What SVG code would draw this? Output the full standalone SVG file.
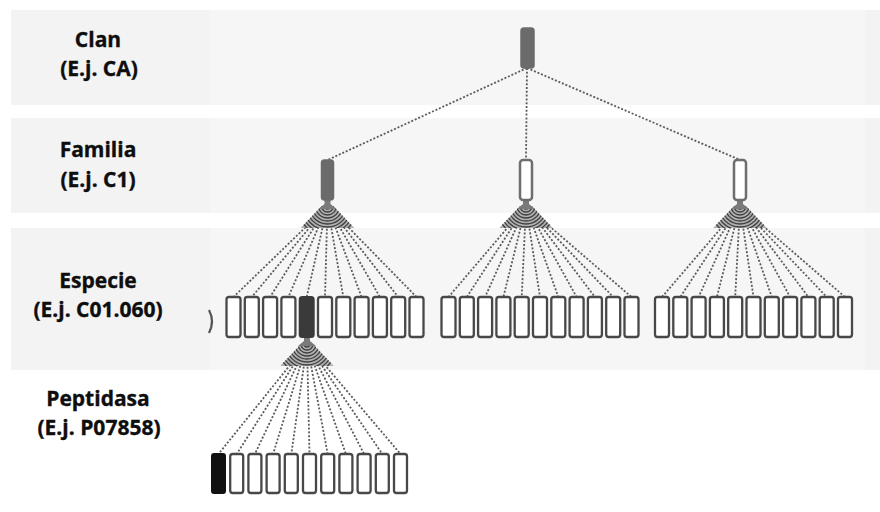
<svg xmlns="http://www.w3.org/2000/svg" xmlns:xlink="http://www.w3.org/1999/xlink" width="880" height="512" viewBox="0 0 880 512">
  <style>
    .band { fill: #f6f6f6; }
    .band-label { fill: #f3f3f3; }
    .band-edge { fill: #f3f3f3; }
    .label { font-family: "Open Sans", "Liberation Sans", sans-serif; font-weight: 700; font-size: 21px; fill: #0e0e0e; text-anchor: middle; stroke: #0e0e0e; stroke-width: 0.35; }
    .link { stroke: #5c5c5c; stroke-width: 1.8; stroke-dasharray: 2 1.8; fill: none; }
    .box { fill: #ffffff; stroke: #484848; stroke-width: 2.3; }
    .box-sel { fill: #3a3a3a; stroke: #3a3a3a; stroke-width: 2; }
    .box-leaf { fill: #111111; stroke: #111111; stroke-width: 2; }
    .node-full { fill: #6b6b6b; stroke: #6b6b6b; stroke-width: 1.5; }
    .node-open { fill: #ffffff; stroke: #6e6e6e; stroke-width: 2.5; }
    .flare { fill: #7a7a7a; }
  </style>
  <defs>
    <clipPath id="fanClip" clipPathUnits="userSpaceOnUse">
      <polygon points="-6,0 6,0 27,22 -27,22"/>
    </clipPath>
    <!-- dense fan pattern where the dotted links converge -->
    <g id="moire" clip-path="url(#fanClip)">
      <polygon points="-6,0 6,0 27,22 -27,22" fill="#b0b0b0"/>
      <g fill="none" stroke="#404040" stroke-width="1.3">
        <circle r="3"/><circle r="6"/><circle r="9"/><circle r="12"/>
        <circle r="15"/><circle r="18"/><circle r="21"/><circle r="24"/>
        <circle r="27"/><circle r="30"/>
      </g>
    </g>
    <path id="neck" d="M-3,-6 L3,-6 L3,-2 L9,3 L-9,3 L-3,-2 Z"/>
  </defs>

  <rect width="880" height="512" fill="#ffffff"/>

  <!-- level bands -->
  <g id="bands">
    <rect class="band" x="11" y="10" width="869" height="95"/>
    <rect class="band-label" x="11" y="10" width="199" height="95"/>
    <rect class="band-edge" x="865" y="10" width="15" height="95"/>
    <rect class="band" x="11" y="118" width="869" height="95"/>
    <rect class="band-label" x="11" y="118" width="199" height="95"/>
    <rect class="band-edge" x="865" y="118" width="15" height="95"/>
    <rect class="band" x="11" y="228" width="869" height="142"/>
    <rect class="band-label" x="11" y="228" width="199" height="142"/>
    <rect class="band-edge" x="865" y="228" width="15" height="142"/>
  </g>

  <!-- level labels -->
  <g id="labels">
    <text class="label" x="98" y="47">Clan</text>
    <text class="label" x="99" y="76">(E.j. CA)</text>
    <text class="label" x="98" y="157">Familia</text>
    <text class="label" x="98" y="187">(E.j. C1)</text>
    <text class="label" x="98" y="288">Especie</text>
    <text class="label" x="98" y="317">(E.j. C01.060)</text>
    <text class="label" x="98" y="406">Peptidasa</text>
    <text class="label" x="99" y="435">(E.j. P07858)</text>
  </g>

  <!-- connectors -->
  <g id="connectors">
    <line class="link" x1="527" y1="68" x2="327.5" y2="160"/>
    <line class="link" x1="527" y1="68" x2="526" y2="160"/>
    <line class="link" x1="527" y1="68" x2="740" y2="160"/>

    <g id="fan-c1">
      <line class="link" x1="327.5" y1="206" x2="233.5" y2="297"/>
      <line class="link" x1="327.5" y1="206" x2="251.8" y2="297"/>
      <line class="link" x1="327.5" y1="206" x2="270.1" y2="297"/>
      <line class="link" x1="327.5" y1="206" x2="288.4" y2="297"/>
      <line class="link" x1="327.5" y1="206" x2="306.7" y2="297"/>
      <line class="link" x1="327.5" y1="206" x2="325" y2="297"/>
      <line class="link" x1="327.5" y1="206" x2="343.3" y2="297"/>
      <line class="link" x1="327.5" y1="206" x2="361.6" y2="297"/>
      <line class="link" x1="327.5" y1="206" x2="379.9" y2="297"/>
      <line class="link" x1="327.5" y1="206" x2="398.2" y2="297"/>
      <line class="link" x1="327.5" y1="206" x2="416.5" y2="297"/>
    </g>
    <g id="fan-f2">
      <line class="link" x1="526" y1="206" x2="448.5" y2="297"/>
      <line class="link" x1="526" y1="206" x2="466.8" y2="297"/>
      <line class="link" x1="526" y1="206" x2="485.1" y2="297"/>
      <line class="link" x1="526" y1="206" x2="503.4" y2="297"/>
      <line class="link" x1="526" y1="206" x2="521.7" y2="297"/>
      <line class="link" x1="526" y1="206" x2="540" y2="297"/>
      <line class="link" x1="526" y1="206" x2="558.3" y2="297"/>
      <line class="link" x1="526" y1="206" x2="576.6" y2="297"/>
      <line class="link" x1="526" y1="206" x2="594.9" y2="297"/>
      <line class="link" x1="526" y1="206" x2="613.2" y2="297"/>
      <line class="link" x1="526" y1="206" x2="631.5" y2="297"/>
    </g>
    <g id="fan-f3">
      <line class="link" x1="740" y1="206" x2="662" y2="297"/>
      <line class="link" x1="740" y1="206" x2="680.3" y2="297"/>
      <line class="link" x1="740" y1="206" x2="698.6" y2="297"/>
      <line class="link" x1="740" y1="206" x2="716.9" y2="297"/>
      <line class="link" x1="740" y1="206" x2="735.2" y2="297"/>
      <line class="link" x1="740" y1="206" x2="753.5" y2="297"/>
      <line class="link" x1="740" y1="206" x2="771.8" y2="297"/>
      <line class="link" x1="740" y1="206" x2="790.1" y2="297"/>
      <line class="link" x1="740" y1="206" x2="808.4" y2="297"/>
      <line class="link" x1="740" y1="206" x2="826.7" y2="297"/>
      <line class="link" x1="740" y1="206" x2="845" y2="297"/>
    </g>
    <g id="fan-c01060">
      <line class="link" x1="307" y1="344" x2="218.5" y2="454"/>
      <line class="link" x1="307" y1="344" x2="236.7" y2="454"/>
      <line class="link" x1="307" y1="344" x2="254.9" y2="454"/>
      <line class="link" x1="307" y1="344" x2="273.1" y2="454"/>
      <line class="link" x1="307" y1="344" x2="291.3" y2="454"/>
      <line class="link" x1="307" y1="344" x2="309.5" y2="454"/>
      <line class="link" x1="307" y1="344" x2="327.7" y2="454"/>
      <line class="link" x1="307" y1="344" x2="345.9" y2="454"/>
      <line class="link" x1="307" y1="344" x2="364.1" y2="454"/>
      <line class="link" x1="307" y1="344" x2="382.3" y2="454"/>
      <line class="link" x1="307" y1="344" x2="400.5" y2="454"/>
    </g>

    <!-- convergence patterns under expanded nodes -->
    <use xlink:href="#moire" x="327.5" y="206"/>
    <use xlink:href="#moire" x="526" y="206"/>
    <use xlink:href="#moire" x="740" y="206"/>
    <use xlink:href="#moire" x="307" y="344"/>
    <use xlink:href="#neck" class="flare" x="327.5" y="206"/>
    <use xlink:href="#neck" class="flare" x="526" y="206"/>
    <use xlink:href="#neck" class="flare" x="740" y="206"/>
    <use xlink:href="#neck" class="flare" x="307" y="343"/>
  </g>

  <!-- clan -->
  <g id="clan-CA">
    <rect class="node-full" x="521" y="28" width="13" height="40" rx="3"/>
  </g>

  <!-- families -->
  <g id="family-C1">
    <rect class="node-full" x="321.5" y="160" width="12" height="40" rx="3"/>
  </g>
  <g id="family-2">
    <rect class="node-open" x="520" y="160" width="12" height="40" rx="3"/>
  </g>
  <g id="family-3">
    <rect class="node-open" x="734" y="160" width="12" height="40" rx="3"/>
  </g>

  <!-- species -->
  <g id="species-partial">
    <path d="M209,310 Q215,321.5 209,333" fill="none" stroke="#555555" stroke-width="2.2"/>
  </g>
  <g id="species-C1">
    <rect class="box" x="226.5" y="297" width="14" height="40" rx="2.5"/>
    <rect class="box" x="244.8" y="297" width="14" height="40" rx="2.5"/>
    <rect class="box" x="263.1" y="297" width="14" height="40" rx="2.5"/>
    <rect class="box" x="281.4" y="297" width="14" height="40" rx="2.5"/>
    <rect class="box-sel" x="299.7" y="297" width="14" height="40" rx="2.5"/>
    <rect class="box" x="318" y="297" width="14" height="40" rx="2.5"/>
    <rect class="box" x="336.3" y="297" width="14" height="40" rx="2.5"/>
    <rect class="box" x="354.6" y="297" width="14" height="40" rx="2.5"/>
    <rect class="box" x="372.9" y="297" width="14" height="40" rx="2.5"/>
    <rect class="box" x="391.2" y="297" width="14" height="40" rx="2.5"/>
    <rect class="box" x="409.5" y="297" width="14" height="40" rx="2.5"/>
  </g>
  <g id="species-2">
    <rect class="box" x="441.5" y="297" width="14" height="40" rx="2.5"/>
    <rect class="box" x="459.8" y="297" width="14" height="40" rx="2.5"/>
    <rect class="box" x="478.1" y="297" width="14" height="40" rx="2.5"/>
    <rect class="box" x="496.4" y="297" width="14" height="40" rx="2.5"/>
    <rect class="box" x="514.7" y="297" width="14" height="40" rx="2.5"/>
    <rect class="box" x="533" y="297" width="14" height="40" rx="2.5"/>
    <rect class="box" x="551.3" y="297" width="14" height="40" rx="2.5"/>
    <rect class="box" x="569.6" y="297" width="14" height="40" rx="2.5"/>
    <rect class="box" x="587.9" y="297" width="14" height="40" rx="2.5"/>
    <rect class="box" x="606.2" y="297" width="14" height="40" rx="2.5"/>
    <rect class="box" x="624.5" y="297" width="14" height="40" rx="2.5"/>
  </g>
  <g id="species-3">
    <rect class="box" x="655" y="297" width="14" height="40" rx="2.5"/>
    <rect class="box" x="673.3" y="297" width="14" height="40" rx="2.5"/>
    <rect class="box" x="691.6" y="297" width="14" height="40" rx="2.5"/>
    <rect class="box" x="709.9" y="297" width="14" height="40" rx="2.5"/>
    <rect class="box" x="728.2" y="297" width="14" height="40" rx="2.5"/>
    <rect class="box" x="746.5" y="297" width="14" height="40" rx="2.5"/>
    <rect class="box" x="764.8" y="297" width="14" height="40" rx="2.5"/>
    <rect class="box" x="783.1" y="297" width="14" height="40" rx="2.5"/>
    <rect class="box" x="801.4" y="297" width="14" height="40" rx="2.5"/>
    <rect class="box" x="819.7" y="297" width="14" height="40" rx="2.5"/>
    <rect class="box" x="838" y="297" width="14" height="40" rx="2.5"/>
  </g>

  <!-- peptidases -->
  <g id="peptidases-C01060">
    <rect class="box-leaf" x="212" y="454" width="13" height="39" rx="2"/>
    <rect class="box" x="230.2" y="454" width="13" height="39" rx="2.5"/>
    <rect class="box" x="248.4" y="454" width="13" height="39" rx="2.5"/>
    <rect class="box" x="266.6" y="454" width="13" height="39" rx="2.5"/>
    <rect class="box" x="284.8" y="454" width="13" height="39" rx="2.5"/>
    <rect class="box" x="303" y="454" width="13" height="39" rx="2.5"/>
    <rect class="box" x="321.2" y="454" width="13" height="39" rx="2.5"/>
    <rect class="box" x="339.4" y="454" width="13" height="39" rx="2.5"/>
    <rect class="box" x="357.6" y="454" width="13" height="39" rx="2.5"/>
    <rect class="box" x="375.8" y="454" width="13" height="39" rx="2.5"/>
    <rect class="box" x="394" y="454" width="13" height="39" rx="2.5"/>
  </g>
</svg>
